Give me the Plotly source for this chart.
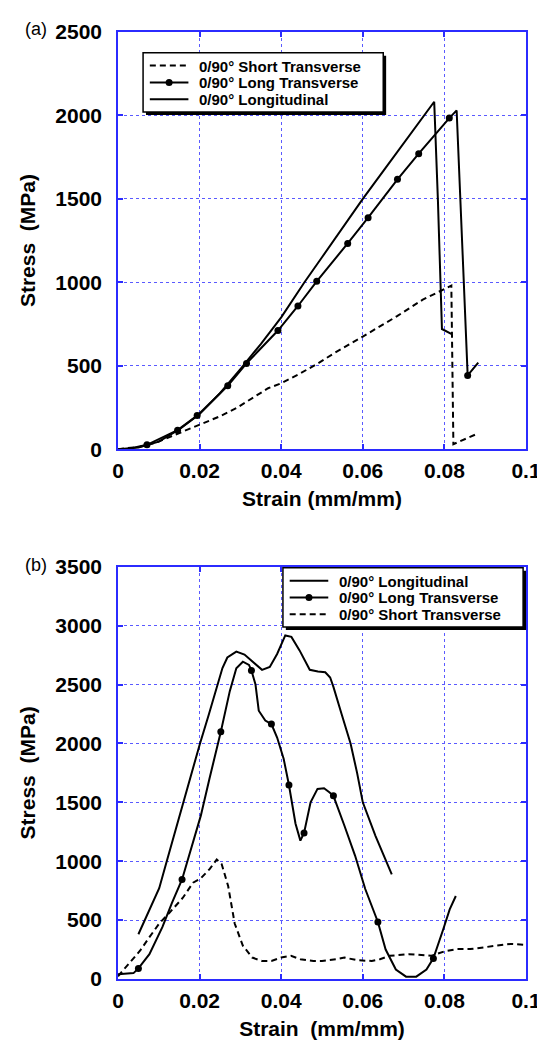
import plotly.graph_objects as go

# ---------------- DATA ----------------
# Panel (a)
a_st_x = [0.0, 0.0054, 0.0093, 0.0132, 0.0172, 0.0211, 0.025, 0.029, 0.0329, 0.0368, 0.04, 0.0447,
          0.0494, 0.0527, 0.06, 0.0684, 0.0747, 0.0787, 0.0817, 0.0822, 0.0841, 0.0881]
a_st_y = [0, 14, 39, 79, 118, 158, 197, 246, 306, 365, 395, 454, 520, 571, 675, 797, 896, 945, 980, 30, 50, 93]

a_lt_x = [0.0005, 0.0022, 0.0071, 0.0146, 0.0194, 0.0269, 0.0315, 0.0392, 0.0441, 0.0487, 0.0563, 0.0613,
          0.0685, 0.0737, 0.0812, 0.083, 0.0846, 0.0857, 0.0883]
a_lt_y = [0, 0, 26, 114, 201, 380, 514, 711, 858, 1006, 1233, 1387, 1617, 1771, 1984, 2030, 1092, 442, 518]
a_ltm_x = [0.0022, 0.0071, 0.0146, 0.0194, 0.0269, 0.0315, 0.0392, 0.0441, 0.0487, 0.0563, 0.0613,
           0.0685, 0.0737, 0.0812, 0.0857]
a_ltm_y = [-5, 26, 114, 201, 380, 514, 711, 858, 1006, 1233, 1387, 1617, 1771, 1984, 442]

a_lg_x = [0.0, 0.005, 0.01, 0.015, 0.02, 0.025, 0.03, 0.035, 0.04, 0.0457, 0.05, 0.055, 0.06, 0.065,
          0.07, 0.0775, 0.0784, 0.079, 0.0794, 0.0818]
a_lg_y = [0, 10, 45, 118, 210, 335, 480, 630, 790, 1000, 1150, 1325, 1500, 1666, 1833, 2082, 1500, 1000, 720, 690]

# Panel (b)
b_lg_x = [0.005, 0.0077, 0.0101, 0.012, 0.014, 0.016, 0.018, 0.0201, 0.0223, 0.0245, 0.0256, 0.0268, 0.029,
          0.031, 0.0332, 0.0353, 0.0372, 0.039, 0.041, 0.0425, 0.0445, 0.047, 0.049, 0.0508, 0.052, 0.0528,
          0.0548, 0.057, 0.0586, 0.06, 0.0631, 0.0656, 0.0671]
b_lg_y = [380, 580, 771, 1006, 1250, 1500, 1750, 2000, 2250, 2500, 2640, 2730, 2780, 2755, 2690, 2625, 2650,
          2760, 2917, 2905, 2790, 2625, 2611, 2605, 2560, 2480, 2250, 2000, 1750, 1500, 1216, 1017, 889]

b_lt_x = [0.0, 0.0038, 0.005, 0.0077, 0.0109, 0.0132, 0.0157, 0.018, 0.0203, 0.0224, 0.0252, 0.0274, 0.029,
          0.0306, 0.0321, 0.0327, 0.0337, 0.0345, 0.0361, 0.0376, 0.039, 0.0406, 0.0419, 0.0435, 0.0447,
          0.0456, 0.0472, 0.0489, 0.0505, 0.0518, 0.0528, 0.0555, 0.0581, 0.0606, 0.0637, 0.0656, 0.0681,
          0.0706, 0.0731, 0.0756, 0.0773, 0.0797, 0.0813, 0.0828]
b_lt_y = [40, 50, 90, 211, 442, 645, 845, 1107, 1387, 1698, 2100, 2444, 2639, 2694, 2667, 2620, 2500, 2278,
          2194, 2165, 2050, 1870, 1647, 1320, 1175, 1240, 1500, 1614, 1620, 1585, 1555, 1301, 1048, 764, 484,
          250, 80, 20, 20, 80, 175, 420, 591, 705]
b_ltm_x = [0.005, 0.0157, 0.0252, 0.0327, 0.0376, 0.0419, 0.0456, 0.0528, 0.0637, 0.0773]
b_ltm_y = [90, 845, 2100, 2620, 2165, 1647, 1240, 1555, 484, 175]

b_st_x = [0.0, 0.0022, 0.0054, 0.0077, 0.0101, 0.0126, 0.0159, 0.0184, 0.0203, 0.0225, 0.0242, 0.0254, 0.027,
          0.0286, 0.0306, 0.0329, 0.0353, 0.0376, 0.04, 0.0424, 0.0447, 0.0479, 0.05, 0.0535, 0.0555, 0.0587,
          0.0622, 0.0642, 0.0666, 0.0713, 0.0768, 0.08, 0.0832, 0.0863, 0.0895, 0.0927, 0.0962, 0.1]
b_st_y = [23, 110, 240, 355, 471, 562, 690, 818, 855, 935, 1015, 977, 789, 471, 283, 182, 153, 153, 182, 197,
          168, 153, 153, 168, 182, 159, 153, 168, 197, 211, 197, 234, 254, 254, 269, 283, 298, 290]

NAME_ST = "0/90° Short Transverse"
NAME_LT = "0/90° Long Transverse"
NAME_LG = "0/90° Longitudinal"
legend_a = [NAME_ST, NAME_LT, NAME_LG]
legend_b = [NAME_LG, NAME_LT, NAME_ST]

# ---------------- STYLE / LAYOUT ----------------
W, H = 545, 1041
ML, MR, MT, MB = 110, 12, 23, 60
PW, PH = W - ML - MR, H - MT - MB

FONT = "Liberation Sans, Arial, Helvetica, sans-serif"
BLUE = "#2b2bff"
GRID = "#5a5aff"
LW = 2
DASH = "6px,4px"
MS = 7

def px_x(p):
    return (p - ML) / PW

def px_y(p):
    return (H - MB - p) / PH

fig = go.Figure()

def line_style(name):
    if name == NAME_ST:
        return dict(color="black", width=LW, dash=DASH)
    return dict(color="black", width=LW)

def add_panel(xa, ya, st, lt, ltm, lg):
    fig.add_trace(go.Scatter(x=st[0], y=st[1], mode="lines", name=NAME_ST, showlegend=False,
                             line=line_style(NAME_ST), xaxis=xa, yaxis=ya))
    fig.add_trace(go.Scatter(x=lg[0], y=lg[1], mode="lines", name=NAME_LG, showlegend=False,
                             line=line_style(NAME_LG), xaxis=xa, yaxis=ya))
    fig.add_trace(go.Scatter(x=lt[0], y=lt[1], mode="lines", name=NAME_LT, showlegend=False,
                             line=line_style(NAME_LT), xaxis=xa, yaxis=ya))
    fig.add_trace(go.Scatter(x=ltm[0], y=ltm[1], mode="markers", name=NAME_LT, showlegend=False,
                             cliponaxis=False, marker=dict(color="black", size=MS), xaxis=xa, yaxis=ya))

add_panel("x", "y", (a_st_x, a_st_y), (a_lt_x, a_lt_y), (a_ltm_x, a_ltm_y), (a_lg_x, a_lg_y))
add_panel("x2", "y2", (b_st_x, b_st_y), (b_lt_x, b_lt_y), (b_ltm_x, b_ltm_y), (b_lg_x, b_lg_y))

shapes = []
annotations = []

ROW0, ROWGAP = 13, 17

def boxed_legend(left, top, names, width=249, height=60):
    right, bottom = left + width, top + height
    # drop shadow
    shapes.append(dict(type="rect", xref="paper", yref="paper", layer="above",
                       x0=px_x(left + 3), x1=px_x(right + 3), y0=px_y(bottom + 3), y1=px_y(top + 3),
                       fillcolor="black", line=dict(width=0)))
    shapes.append(dict(type="rect", xref="paper", yref="paper", layer="above",
                       x0=px_x(left), x1=px_x(right), y0=px_y(bottom), y1=px_y(top),
                       fillcolor="white", line=dict(color="black", width=1.5)))
    for i, name in enumerate(names):
        yc = top + ROW0 + i * ROWGAP
        shapes.append(dict(type="line", xref="paper", yref="paper", layer="above",
                           x0=px_x(left + 7), x1=px_x(left + 47), y0=px_y(yc), y1=px_y(yc),
                           line=line_style(name)))
        if name == NAME_LT:
            shapes.append(dict(type="circle", xref="paper", yref="paper", layer="above",
                               xsizemode="pixel", ysizemode="pixel",
                               xanchor=px_x(left + 27), yanchor=px_y(yc),
                               x0=-3.5, x1=3.5, y0=-3.5, y1=3.5,
                               fillcolor="black", line=dict(color="black", width=0)))
        annotations.append(dict(text=name, xref="paper", yref="paper", showarrow=False,
                                x=px_x(left + 56), y=px_y(yc + 0.5), xanchor="left", yanchor="middle",
                                font=dict(family=FONT, size=15, color="black", weight="bold")))

boxed_legend(136, 44, legend_a)
boxed_legend(281, 565, legend_b)

annotations.append(dict(text="(a)", x=px_x(12), y=px_y(20), xref="paper", yref="paper",
                        xanchor="left", yanchor="middle", showarrow=False,
                        font=dict(family=FONT, size=18, color="black")))
annotations.append(dict(text="(b)", x=px_x(12), y=px_y(562), xref="paper", yref="paper",
                        xanchor="left", yanchor="middle", showarrow=False,
                        font=dict(family=FONT, size=18, color="black")))

tickfont = dict(family=FONT, size=21, color="black", weight="bold")
titlefont = dict(family=FONT, size=21, color="black", weight="bold")

def axis_common():
    return dict(showline=True, linecolor=BLUE, linewidth=1.5, mirror="ticks",
                ticks="inside", ticklen=5, tickcolor=BLUE, tickwidth=1.5,
                showgrid=True, gridcolor=GRID, griddash="dot", gridwidth=1,
                zeroline=False, tickfont=tickfont, ticklabeloverflow="allow")

fig.update_layout(
    width=W, height=H,
    margin=dict(l=ML, r=MR, t=MT, b=MB),
    paper_bgcolor="white", plot_bgcolor="white",
    showlegend=False,
    xaxis=dict(domain=[0, 1], anchor="y", range=[0, 0.1], dtick=0.02, tick0=0,
               title=dict(text="Strain (mm/mm)", font=titlefont, standoff=10),
               ticklabelstandoff=2, **axis_common()),
    yaxis=dict(domain=[px_y(445), 1], anchor="x", range=[0, 2500], dtick=500, tick0=0,
               title=dict(text="Stress\u00a0\u00a0(MPa)", font=titlefont, standoff=14),
               ticklabelstandoff=10, **axis_common()),
    xaxis2=dict(domain=[0, 1], anchor="y2", range=[0, 0.1], dtick=0.02, tick0=0,
                title=dict(text="Strain\u00a0\u00a0(mm/mm)", font=titlefont, standoff=10),
                ticklabelstandoff=2, **axis_common()),
    yaxis2=dict(domain=[0, px_y(564)], anchor="x2", range=[0, 3500], dtick=500, tick0=0,
                title=dict(text="Stress\u00a0\u00a0(MPa)", font=titlefont, standoff=14),
                ticklabelstandoff=10, **axis_common()),
    shapes=shapes,
    annotations=annotations,
)

fig.write_html("out.html")
